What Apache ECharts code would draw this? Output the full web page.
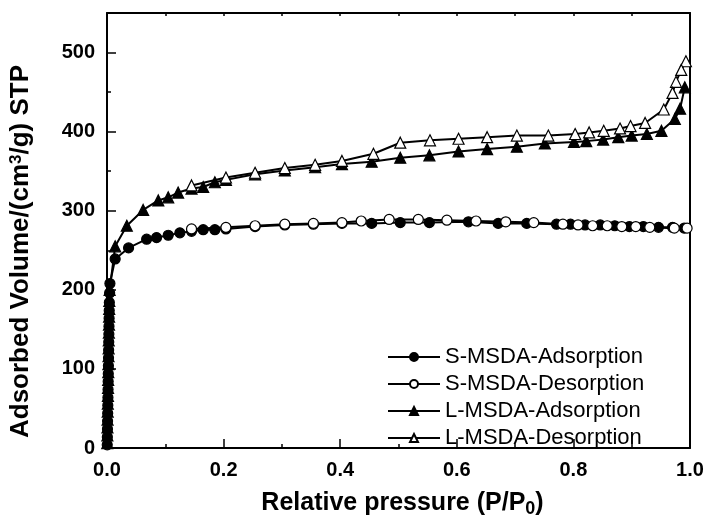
<!DOCTYPE html>
<html><head><meta charset="utf-8">
<script src="https://cdn.jsdelivr.net/npm/echarts@6/dist/echarts.min.js"></script>
<style>html,body{margin:0;padding:0;background:#fff}#c{width:707px;height:525px}</style>
</head><body><div id="c"></div>
<script>
// S-MSDA adsorption (filled circles)
const sAdsX = [0.0004,0.0006,0.0008,0.001,0.0012,0.0014,0.0016,0.0018,0.002,0.0022,0.0024,0.0026,0.0028,0.003,0.0032,0.0034,0.0036,0.0038,0.004,0.0045,0.005,
  0.014,0.037,0.068,0.085,0.105,0.125,0.145,0.165,0.185,0.204,0.254,0.305,0.354,0.403,0.454,0.503,0.553,0.62,0.671,0.72,0.771,0.795,0.82,0.846,0.871,0.896,0.92,0.946,0.97,0.99];
const sAdsY = [4,14,24,34,44,54,64,74,84,94,104,114,124,134,144,154,164,174,184,196,208,
  239,253,264,266,269,272,274,276,276,277,280,282,283,284,284,285,285,286,284,284,283,283,282,282,281,280,280,279,279,278];
// S-MSDA desorption (open circles)
const sDesX = [0.995,0.973,0.931,0.907,0.883,0.858,0.833,0.808,0.782,0.732,0.684,0.633,0.583,0.534,0.484,0.436,0.403,0.354,0.305,0.254,0.204,0.145];
const sDesY = [278,278,279,280,280,281,281,282,283,285,286,287,288,289,289,287,285,284,283,281,279,277];
// L-MSDA adsorption (filled triangles)
const lAdsX = [0.0004,0.0006,0.0008,0.001,0.0012,0.0014,0.0016,0.0018,0.002,0.0022,0.0024,0.0026,0.0028,0.003,0.0032,0.0034,0.0036,0.0038,0.004,0.0045,
  0.014,0.034,0.062,0.088,0.105,0.122,0.145,0.165,0.185,0.204,0.254,0.305,0.357,0.403,0.454,0.503,0.553,0.603,0.652,0.703,0.751,0.801,0.822,0.851,0.877,0.9,0.926,0.951,0.974,0.983,0.991];
const lAdsY = [6,16,26,36,46,56,66,76,86,96,106,116,126,136,146,156,166,176,186,200,
  255,281,301,313,317,323,328,330,336,339,346,351,355,359,362,367,370,375,378,381,385,387,388,390,393,395,397,401,416,429,456];
// L-MSDA desorption (open triangles)
const lDesX = [0.993,0.985,0.976,0.970,0.955,0.923,0.898,0.88,0.852,0.827,0.803,0.757,0.703,0.652,0.603,0.554,0.503,0.457,0.403,0.357,0.305,0.254,0.204,0.145];
const lDesY = [489,478,463,449,428,411,407,404,401,399,397,395,395,393,391,389,386,372,363,358,354,348,342,332];

const seriesNames = ['S-MSDA-Adsorption','S-MSDA-Desorption','L-MSDA-Adsorption','L-MSDA-Desorption'];
const xTicks = [0, 0.2, 0.4, 0.6, 0.8, 1.0];
const yTicks = [0, 100, 200, 300, 400, 500];

const pair = (xs, ys) => xs.map((x, i) => [x, ys[i]]);
const FONT = 'Liberation Sans, Arial, sans-serif';

function mk(name, xs, ys, symbol, size, filled) {
  return {
    name, type: 'line', data: pair(xs, ys), symbol, symbolSize: size,
    showSymbol: true, animation: false,
    lineStyle: { color: '#000', width: 2 },
    itemStyle: { color: filled ? '#000' : '#fff', borderColor: '#000', borderWidth: 1.2 },
    emphasis: { disabled: true }
  };
}

const chart = echarts.init(document.getElementById('c'), null, { renderer: 'canvas' });
chart.setOption({
  backgroundColor: '#fff',
  animation: false,
  grid: { left: 107, right: 17, top: 13, bottom: 77 },
  legend: {
    orient: 'vertical', left: 382, top: 341,
    itemWidth: 52, itemHeight: 10, itemGap: 5,
    textStyle: { fontFamily: FONT, fontSize: 22, color: '#000' },
    data: seriesNames
  },
  xAxis: [{
    type: 'value', min: 0, max: 1, interval: 0.2,
    axisLine: { lineStyle: { color: '#000', width: 2 } },
    axisTick: { inside: true, length: 9, lineStyle: { color: '#000', width: 1.5 } },
    minorTick: { show: true, splitNumber: 2, length: 4, lineStyle: { color: '#000', width: 1.5 } },
    splitLine: { show: false },
    axisLabel: { fontFamily: FONT, fontWeight: 'bold', fontSize: 20, color: '#000', margin: 12,
      formatter: v => xTicks.some(t => Math.abs(t - v) < 1e-9) ? v.toFixed(1) : '' },
    name: '{t|Relative pressure (P/P}{s|0}{t|)}',
    nameLocation: 'middle', nameGap: 40,
    nameTextStyle: { padding: [0, 0, 0, 8], rich: {
      t: { fontFamily: FONT, fontWeight: 'bold', fontSize: 25, color: '#000' },
      s: { fontFamily: FONT, fontWeight: 'bold', fontSize: 18, color: '#000', verticalAlign: 'bottom', padding: [12, 0, 0, 0] }
    } }
  }, {
    type: 'value', position: 'top', min: 0, max: 1, interval: 0.1,
    axisLine: { show: true, onZero: false, lineStyle: { color: '#000', width: 2 } },
    axisTick: { inside: true, length: 3, lineStyle: { color: '#000', width: 1.5 } },
    axisLabel: { show: false }, splitLine: { show: false }
  }],
  yAxis: [{
    type: 'value', min: 0, max: 550, interval: 100,
    axisLine: { show: true, lineStyle: { color: '#000', width: 2 } },
    axisTick: { show: true, inside: true, length: 9, lineStyle: { color: '#000', width: 1.5 } },
    minorTick: { show: true, splitNumber: 2, length: 4, lineStyle: { color: '#000', width: 1.5 } },
    splitLine: { show: false },
    axisLabel: { fontFamily: FONT, fontWeight: 'bold', fontSize: 20, color: '#000', margin: 12,
      formatter: v => yTicks.includes(v) ? String(v) : '' },
    name: '{t|Adsorbed Volume/(cm}{s|3}{t|/g) STP}',
    nameLocation: 'middle', nameGap: 73, nameRotate: 90,
    nameTextStyle: { padding: [0, 42, 0, 0], rich: {
      t: { fontFamily: FONT, fontWeight: 'bold', fontSize: 26, color: '#000' },
      s: { fontFamily: FONT, fontWeight: 'bold', fontSize: 17, color: '#000', verticalAlign: 'top', padding: [0, 0, 9, 0] }
    } }
  }, {
    type: 'value', position: 'right', min: 0, max: 550,
    axisLine: { show: true, onZero: false, lineStyle: { color: '#000', width: 2 } },
    axisTick: { show: false }, axisLabel: { show: false }, splitLine: { show: false }
  }],
  series: [
    mk(seriesNames[0], sAdsX, sAdsY, 'circle', 10, true),
    mk(seriesNames[1], sDesX, sDesY, 'circle', 10, false),
    mk(seriesNames[2], lAdsX, lAdsY, 'triangle', 11, true),
    mk(seriesNames[3], lDesX, lDesY, 'triangle', 11, false)
  ]
});
</script></body></html>
